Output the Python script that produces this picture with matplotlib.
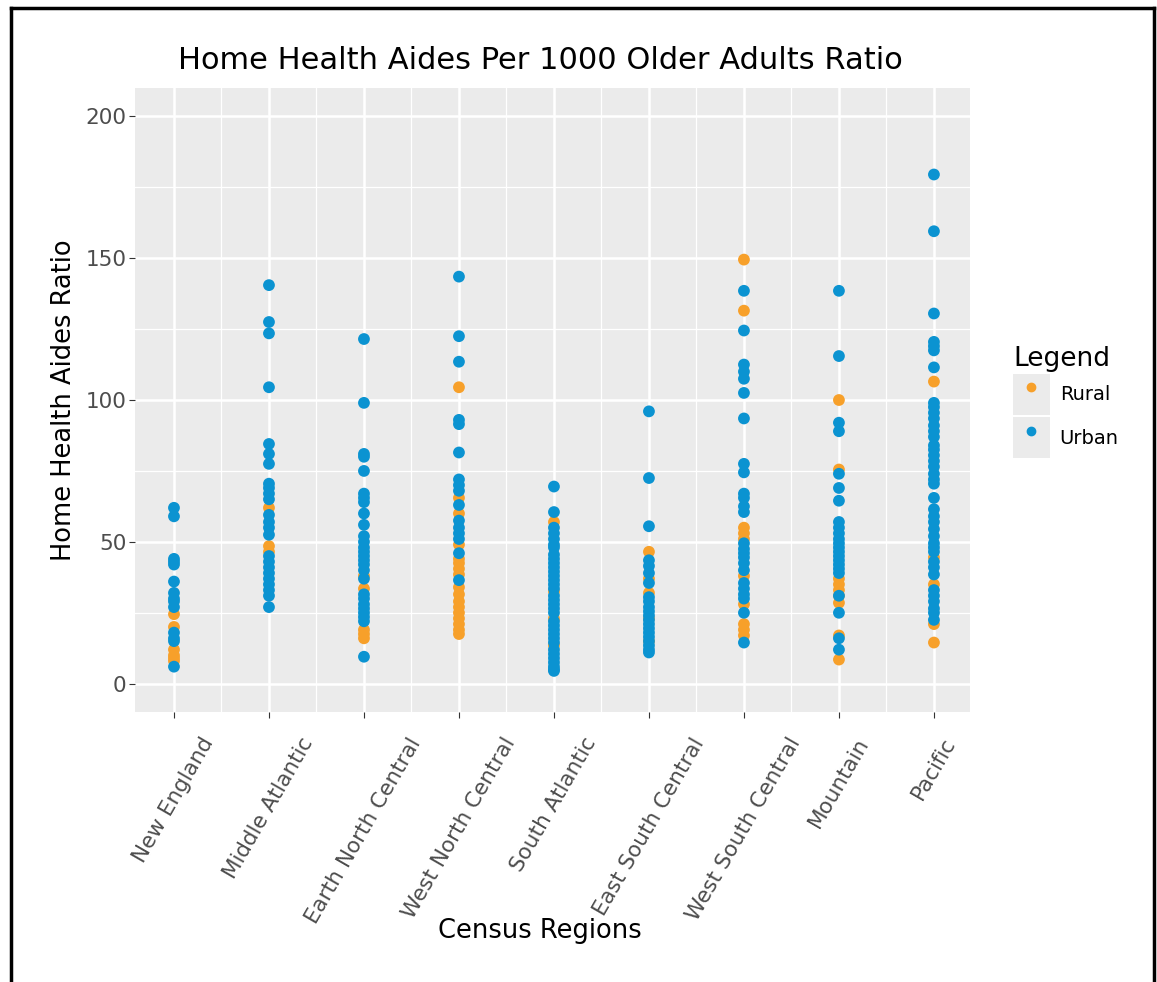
import matplotlib.pyplot as plt
from matplotlib.lines import Line2D
from matplotlib.patches import Rectangle
from matplotlib.legend_handler import HandlerTuple

# Census regions (x categories)
regions = ["New England", "Middle Atlantic", "Earth North Central",
           "West North Central", "South Atlantic", "East South Central",
           "West South Central", "Mountain", "Pacific"]

# Urban ratios per region
urban_values = [
    [62, 59, 44, 43, 42, 36, 32, 30, 29, 27, 18, 16, 15, 6],
    [140.5, 127.5, 123.5, 104.5, 84.5, 81, 77.5, 70.5, 69, 67, 65, 59.5, 57, 55,
     52.5, 45, 43, 41, 39, 37, 35, 33, 31, 27],
    [121.5, 99, 81, 80, 75, 67, 65.5, 64, 60, 56, 52, 50, 48, 46.5, 45, 43.5, 42,
     40, 37, 31.5, 30, 28, 26.5, 25, 23.5, 22, 9.5],
    [143.5, 122.5, 113.5, 93, 91.5, 81.5, 72, 70, 68, 63, 57.5, 55, 53, 51, 46, 36.5],
    [69.5, 60.5, 55, 53, 51, 49, 48, 45.5, 44, 42.5, 41, 39.5, 38, 36.5, 35, 33.5,
     31, 29.5, 28, 26.5, 25, 22, 20.5, 19, 17.5, 16, 14.5, 12, 10.5, 9, 7.5, 6, 5, 4.5],
    [96, 72.5, 55.5, 43.5, 41.5, 39, 35.5, 30.5, 29, 27, 25.5, 24, 22.5, 21, 19.5,
     18, 16.5, 15, 13.5, 12, 11],
    [138.5, 124.5, 112.5, 110, 107.5, 102.5, 93.5, 77.5, 74.5, 67, 65.5, 62.5, 60.5,
     49.5, 47.5, 46, 44.5, 42.5, 40, 35.5, 33.5, 31.5, 30, 25, 14.5],
    [138.5, 115.5, 92, 89, 74, 69, 64.5, 57, 55, 53, 51, 49.5, 48, 46.5, 45, 43.5,
     42, 40.5, 39, 31, 25, 16, 12],
    [179.5, 159.5, 130.5, 120.5, 119, 117.5, 111.5, 99, 97.5, 95.5, 93.5, 91, 89, 87,
     84, 82.5, 80.5, 78.5, 76.5, 74, 72, 70.5, 65.5, 61.5, 59, 57, 54.5, 52, 49.5,
     48, 46.5, 43, 41, 38.5, 33, 31, 29, 26.5, 25, 22.5],
]

# Rural ratios per region
rural_values = [
    [24.5, 20, 12, 10, 9, 8],
    [62, 48.5, 46.5],
    [38, 33.5, 19, 17.5, 16],
    [104.5, 65.5, 60, 49, 44, 42.5, 40.5, 38.5, 34, 31.5, 29, 27, 25, 23, 21, 19, 17.5],
    [57, 32.5, 23, 13.5],
    [46.5, 37, 32, 23, 15],
    [149.5, 131.5, 55, 53, 51, 38, 28, 21, 19, 17],
    [100, 75.5, 37, 35, 33, 31, 28.5, 17, 8.5],
    [106.5, 44.5, 35, 21, 14.5],
]

rural_color = "#F7A02A"
urban_color = "#0B93D1"

fig = plt.figure(figsize=(11.57, 9.82), dpi=100)
ax = fig.add_axes([0.1167, 0.2749, 0.7217, 0.6355])
ax.set_facecolor("#EBEBEB")

for i, region in enumerate(regions):
    ax.scatter([i] * len(rural_values[i]), rural_values[i], s=72,
               color=rural_color, edgecolors="none", zorder=3)
    ax.scatter([i] * len(urban_values[i]), urban_values[i], s=72,
               color=urban_color, edgecolors="none", zorder=3)

ax.set_ylim(-10, 210)
ax.set_xlim(-0.41, len(regions) - 1 + 0.38)
ax.set_yticks([0, 50, 100, 150, 200])
ax.set_yticks([25, 75, 125, 175], minor=True)
ax.set_xticks(range(len(regions)))
ax.set_xticks([i + 0.5 for i in range(len(regions) - 1)], minor=True)
ax.set_xticklabels(regions, rotation=60, ha="center", va="top")
ax.grid(which="major", color="white", linewidth=1.8)
ax.grid(which="minor", color="white", linewidth=0.9)
ax.set_axisbelow(True)
for s in ax.spines.values():
    s.set_visible(False)
ax.tick_params(axis="both", which="major", length=4, color="#333333",
               labelsize=15.5, labelcolor="#4D4D4D")
ax.tick_params(axis="y", pad=2)
ax.tick_params(axis="x", pad=12)
ax.tick_params(axis="both", which="minor", length=0)

ax.set_title("Home Health Aides Per 1000 Older Adults Ratio", fontsize=22,
             pad=14, x=0.485)
ax.set_xlabel("Census Regions", fontsize=18.5, labelpad=-6, x=0.485)
ax.set_ylabel("Home Health Aides Ratio", fontsize=18.5, labelpad=6)

# legend with gray key boxes
box_r = Rectangle((0, 0), 1, 1, facecolor="#EBEBEB", edgecolor="none")
box_u = Rectangle((0, 0), 1, 1, facecolor="#EBEBEB", edgecolor="none")
dot_r = Line2D([], [], marker="o", linestyle="none", color=rural_color, markersize=6)
dot_u = Line2D([], [], marker="o", linestyle="none", color=urban_color, markersize=6)
leg = ax.legend([(box_r, dot_r), (box_u, dot_u)], ["Rural", "Urban"],
                handler_map={tuple: HandlerTuple(ndivide=1, pad=0)},
                title="Legend", title_fontsize=19, fontsize=14, frameon=False,
                loc="upper left", bbox_to_anchor=(1013 / 1157, 1 - 346 / 982),
                bbox_transform=fig.transFigure, borderpad=0, borderaxespad=0,
                handlelength=1.9, handleheight=2.85, labelspacing=0.12,
                handletextpad=0.5)
leg._legend_box.align = "left"

# black frame around the figure (left, top, right)
fig.add_artist(Line2D([0.0095, 0.0095], [0, 0.992], color="black", linewidth=2.5))
fig.add_artist(Line2D([0.0095, 0.9975], [0.992, 0.992], color="black", linewidth=2.5))
fig.add_artist(Line2D([0.9975, 0.9975], [0, 0.992], color="black", linewidth=2.5))

fig.savefig("out.png", dpi=100)
